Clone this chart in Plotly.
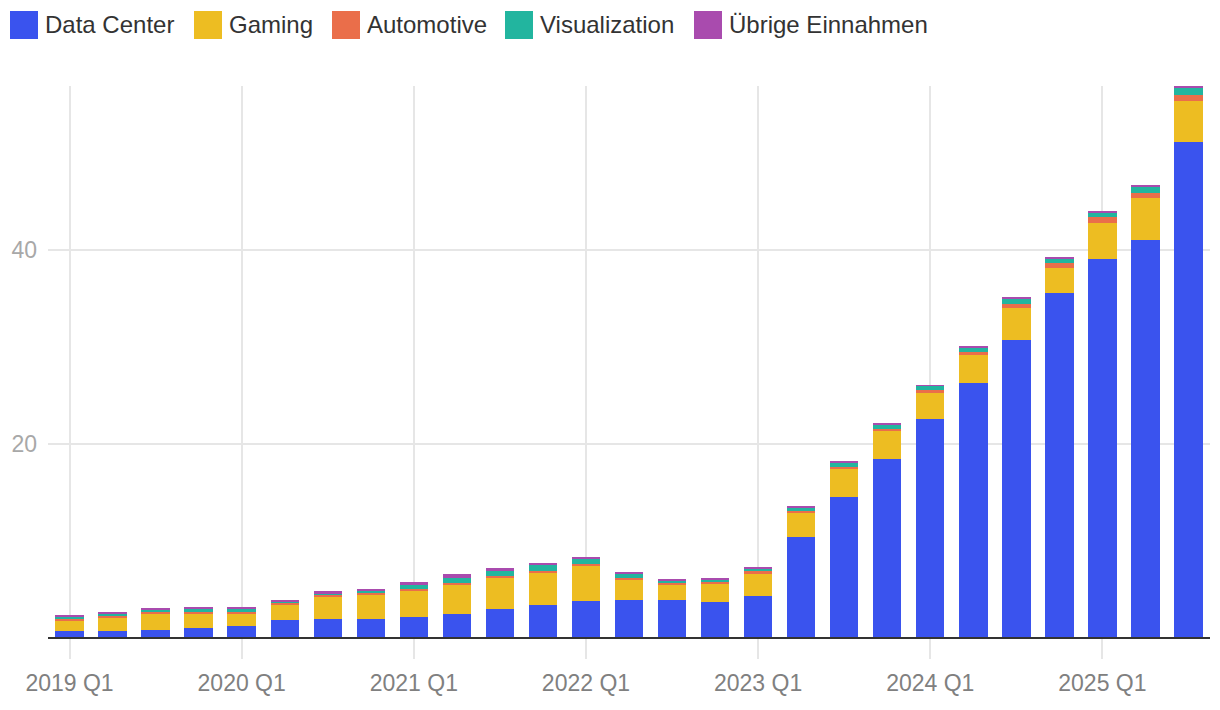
import plotly.graph_objects as go

quarters = [f"{y} Q{q}" for y in range(2019, 2026) for q in range(1, 5)][:27]

data_center = [0.634, 0.655, 0.726, 0.968, 1.141, 1.752, 1.900, 1.903, 2.048, 2.366, 2.936, 3.263,
               3.750, 3.806, 3.833, 3.616, 4.284, 10.323, 14.514, 18.404, 22.563, 26.272, 30.771,
               35.580, 39.112, 41.096, 51.215]
gaming = [1.055, 1.313, 1.659, 1.491, 1.339, 1.654, 2.271, 2.495, 2.760, 3.061, 3.221, 3.420,
          3.620, 2.042, 1.574, 1.831, 2.240, 2.486, 2.856, 2.865, 2.647, 2.880, 3.279,
          2.544, 3.763, 4.287, 4.265]
automotive = [0.166, 0.209, 0.162, 0.163, 0.155, 0.111, 0.125, 0.145, 0.154, 0.152, 0.135, 0.125,
              0.138, 0.220, 0.251, 0.294, 0.296, 0.253, 0.261, 0.281, 0.329, 0.346, 0.449,
              0.570, 0.567, 0.586, 0.592]
visualization = [0.266, 0.291, 0.324, 0.331, 0.307, 0.203, 0.236, 0.307, 0.372, 0.519, 0.577, 0.643,
                 0.622, 0.496, 0.200, 0.226, 0.295, 0.379, 0.416, 0.463, 0.427, 0.454, 0.486,
                 0.511, 0.509, 0.601, 0.760]
other = [0.099, 0.111, 0.143, 0.152, 0.138, 0.146, 0.194, 0.153, 0.327, 0.409, 0.234, 0.192,
         0.158, 0.140, 0.073, 0.084, 0.077, 0.066, 0.073, 0.090, 0.078, 0.088, 0.097,
         0.126, 0.111, 0.173, 0.174]

series_names = ["Data Center", "Gaming", "Automotive", "Visualization", "Übrige Einnahmen"]
series_values = [data_center, gaming, automotive, visualization, other]
colors = ["#3A53EE", "#EDBD22", "#EA6E4A", "#22B59F", "#A94BAE"]

x_tick_labels = [q for q in quarters if q.endswith("Q1")]
y_tick_values = [20, 40]

FONT = "Liberation Sans, Arial, sans-serif"

# page body has an 8px margin; work in window pixels and shift
OFF = 8
FW, FH = 1220 - OFF, 710 - OFF
L, R, T, B = 48 - OFF, 1210 - OFF, 86 - OFF, 637 - OFF
W, H = R - L, B - T


def px(x):
    return (x - OFF - L) / W


def py(y):
    return (B - (y - OFF)) / H


fig = go.Figure()
for name, vals, col in zip(series_names, series_values, colors):
    fig.add_trace(go.Bar(x=quarters, y=vals, name=name, marker=dict(color=col, line=dict(width=0)),
                         showlegend=False))

legend_x = [10, 194, 332, 505, 694]
shapes = []
annotations = []
for name, col, lx in zip(series_names, colors, legend_x):
    shapes.append(dict(type="rect", xref="paper", yref="paper",
                       x0=px(lx), x1=px(lx + 28), y0=py(39), y1=py(11),
                       fillcolor=col, line=dict(width=0)))
    annotations.append(dict(text=name, xref="paper", yref="paper", x=px(lx + 33), y=py(24),
                            xanchor="left", yanchor="middle", showarrow=False,
                            font=dict(size=24, color="#333333", family=FONT)))

fig.update_layout(
    width=FW, height=FH,
    margin=dict(l=L, r=FW - R, t=T, b=FH - B, pad=0, autoexpand=False),
    barmode="stack", bargap=0.34,
    plot_bgcolor="white", paper_bgcolor="white",
    font=dict(family=FONT),
    shapes=shapes, annotations=annotations,
    xaxis=dict(
        type="category", categoryorder="array", categoryarray=quarters,
        range=[-0.5, len(quarters) - 0.5],
        tickmode="array", tickvals=x_tick_labels, ticktext=x_tick_labels,
        showgrid=True, gridcolor="#e6e6e6", gridwidth=2,
        ticks="outside", ticklen=20, tickcolor="#e6e6e6", tickwidth=2,
        showline=True, linecolor="#333333", linewidth=2,
        tickfont=dict(size=23, color="#808080", family=FONT),
        ticklabelstandoff=4, automargin=False,
        layer="below traces",
    ),
    yaxis=dict(
        range=[0, 57.0],
        tickmode="array", tickvals=y_tick_values,
        showgrid=True, gridcolor="#e6e6e6", gridwidth=2,
        zeroline=False, showline=False,
        tickfont=dict(size=23, color="#a8a8a8", family=FONT),
        ticklabelstandoff=10, automargin=False,
    ),
)

fig.write_html("out.html")
